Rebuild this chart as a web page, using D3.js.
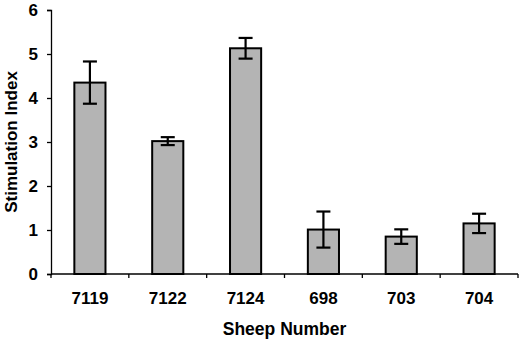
<!DOCTYPE html>
<html>
<head>
<meta charset="utf-8">
<script src="https://cdn.jsdelivr.net/npm/d3@7"></script>
<style>
  body { margin: 0; background: #fff; }
  text { font-family: "Liberation Sans", Arial, sans-serif; font-weight: bold; fill: #000; }
</style>
</head>
<body>
<div id="chart"></div>
<script>
// data
var sheep = ["7119", "7122", "7124", "698", "703", "704"];
var index = [4.35, 3.02, 5.13, 1.01, 0.85, 1.15];
var err = [0.48, 0.09, 0.235, 0.41, 0.165, 0.22];
var yTicks = [0, 1, 2, 3, 4, 5, 6];

var width = 520, height = 340;
var x0 = 51, x1 = 518, yTop = 10, yBot = 274;

var svg = d3.select("#chart").append("svg")
  .attr("width", width)
  .attr("height", height);

var x = d3.scaleBand()
  .domain(sheep)
  .range([x0, x1])
  .paddingInner(0.6)
  .paddingOuter(0.3);

var y = d3.scaleLinear()
  .domain([0, 6])
  .range([yBot, yTop]);

// y axis
var yAxis = svg.append("g")
  .attr("transform", "translate(" + x0 + ",0)")
  .call(d3.axisLeft(y).tickValues(yTicks).tickFormat(d3.format("d")).tickSize(4).tickPadding(9));
yAxis.select(".domain").attr("stroke-width", 1.3);
yAxis.selectAll(".tick line").attr("stroke-width", 1.3);
yAxis.selectAll(".tick text").style("font-size", "17px");

// x axis line + boundary ticks
svg.append("line")
  .attr("x1", x0).attr("x2", x1)
  .attr("y1", yBot).attr("y2", yBot)
  .attr("stroke", "#000").attr("stroke-width", 1.5);

var step = x.step();
svg.selectAll(".xtick")
  .data(d3.range(sheep.length + 1))
  .enter().append("line")
  .attr("class", "xtick")
  .attr("x1", (i) => x(sheep[0]) - step * 0.3 + i * step)
  .attr("x2", (i) => x(sheep[0]) - step * 0.3 + i * step)
  .attr("y1", yBot).attr("y2", yBot + 4)
  .attr("stroke", "#000").attr("stroke-width", 1.3);

// x labels
svg.selectAll(".xlab")
  .data(sheep)
  .enter().append("text")
  .attr("class", "xlab")
  .attr("x", (d) => x(d) + x.bandwidth() / 2)
  .attr("y", 304)
  .attr("text-anchor", "middle")
  .style("font-size", "17px")
  .text((d) => d);

// bars
svg.selectAll(".bar")
  .data(sheep)
  .enter().append("rect")
  .attr("class", "bar")
  .attr("x", (d) => x(d))
  .attr("y", (d, i) => y(index[i]))
  .attr("width", x.bandwidth())
  .attr("height", (d, i) => yBot - y(index[i]))
  .attr("fill", "#b4b4b4")
  .attr("stroke", "#000")
  .attr("stroke-width", 2);

// error bars
var eb = svg.selectAll(".err")
  .data(sheep)
  .enter().append("g")
  .attr("class", "err")
  .attr("stroke", "#000")
  .attr("stroke-width", 2.2);
var cx = (d) => x(d) + x.bandwidth() / 2;
eb.append("line")
  .attr("x1", cx).attr("x2", cx)
  .attr("y1", (d, i) => y(index[i] + err[i]))
  .attr("y2", (d, i) => y(index[i] - err[i]));
eb.append("line")
  .attr("x1", (d) => cx(d) - 7).attr("x2", (d) => cx(d) + 7)
  .attr("y1", (d, i) => y(index[i] + err[i]))
  .attr("y2", (d, i) => y(index[i] + err[i]));
eb.append("line")
  .attr("x1", (d) => cx(d) - 7).attr("x2", (d) => cx(d) + 7)
  .attr("y1", (d, i) => y(index[i] - err[i]))
  .attr("y2", (d, i) => y(index[i] - err[i]));

// axis titles
svg.append("text")
  .attr("x", (x0 + x1) / 2)
  .attr("y", 335)
  .attr("text-anchor", "middle")
  .style("font-size", "17.5px")
  .text("Sheep Number");

svg.append("text")
  .attr("transform", "translate(17," + ((yTop + yBot) / 2) + ") rotate(-90)")
  .attr("text-anchor", "middle")
  .style("font-size", "17px")
  .text("Stimulation Index");
</script>
</body>
</html>
